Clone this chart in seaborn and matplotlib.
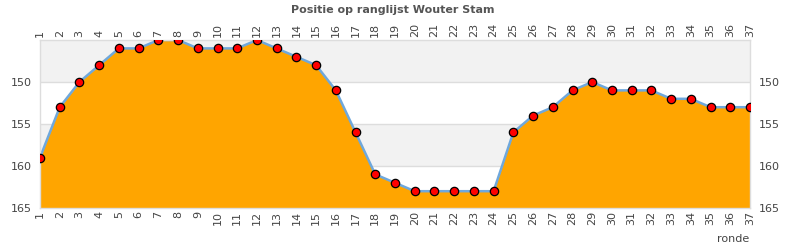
import matplotlib
matplotlib.use("Agg")
import matplotlib.pyplot as plt
import seaborn as sns
import pandas as pd

rondes = list(range(1, 38))
positie = [159, 153, 150, 148, 146, 146, 145, 145, 146, 146, 146, 145, 146, 147, 148, 151,
           156, 161, 162, 163, 163, 163, 163, 163, 156, 154, 153, 151, 150, 151, 151, 151,
           152, 152, 153, 153, 153]
yticks = [150, 155, 160, 165]
title = "Positie op ranglijst Wouter Stam"

df = pd.DataFrame({"ronde": rondes, "positie": positie})

sns.set_theme(style="white")
plt.rcParams['font.family'] = ['DejaVu Sans']

fig = plt.figure(figsize=(7.9, 2.5), dpi=100)
ax = fig.add_axes([40/790, 42/250, 710/790, 168/250])

# bands
ax.axhspan(145, 150, color="#f2f2f2", zorder=0, lw=0)
ax.axhspan(155, 160, color="#f2f2f2", zorder=0, lw=0)
for yv in [150, 155, 160]:
    ax.axhline(yv, color="#dddddd", lw=1, zorder=0.5)

ax.fill_between(df["ronde"], df["positie"], 165, color="#ffa500", zorder=1, lw=0)
sns.lineplot(data=df, x="ronde", y="positie", ax=ax, color="#6fa8dc", lw=1.8, zorder=2)
sns.scatterplot(data=df, x="ronde", y="positie", ax=ax, color="#ff0000", edgecolor="black",
                linewidth=0.9, s=36, marker="o", zorder=3)

ax.set_xlim(1, 37)
ax.set_ylim(165, 145)
ax.set_xticks(rondes)
ax.set_xticklabels([str(r) for r in rondes], rotation=90)
ax.set_yticks(yticks)
ax.tick_params(axis="both", labelsize=8, labelcolor="#444444", length=0, pad=3)
ax.tick_params(axis="x", top=True, labeltop=True, bottom=True, labelbottom=True, pad=2)
ax.tick_params(axis="y", left=True, labelleft=True, right=True, labelright=True, pad=6)
ax.set_xlabel("")
ax.set_ylabel("")
for s in ax.spines.values():
    s.set_color("#dddddd")
    s.set_linewidth(1)

fig.text(393/790, 1 - 10/250, title, ha="center", va="center", fontsize=8,
         fontweight="bold", color="#555555")
fig.text(749/790, 1 - 239/250, "ronde", ha="right", va="center", fontsize=8, color="#444444")

fig.savefig("out.png", dpi=100)
